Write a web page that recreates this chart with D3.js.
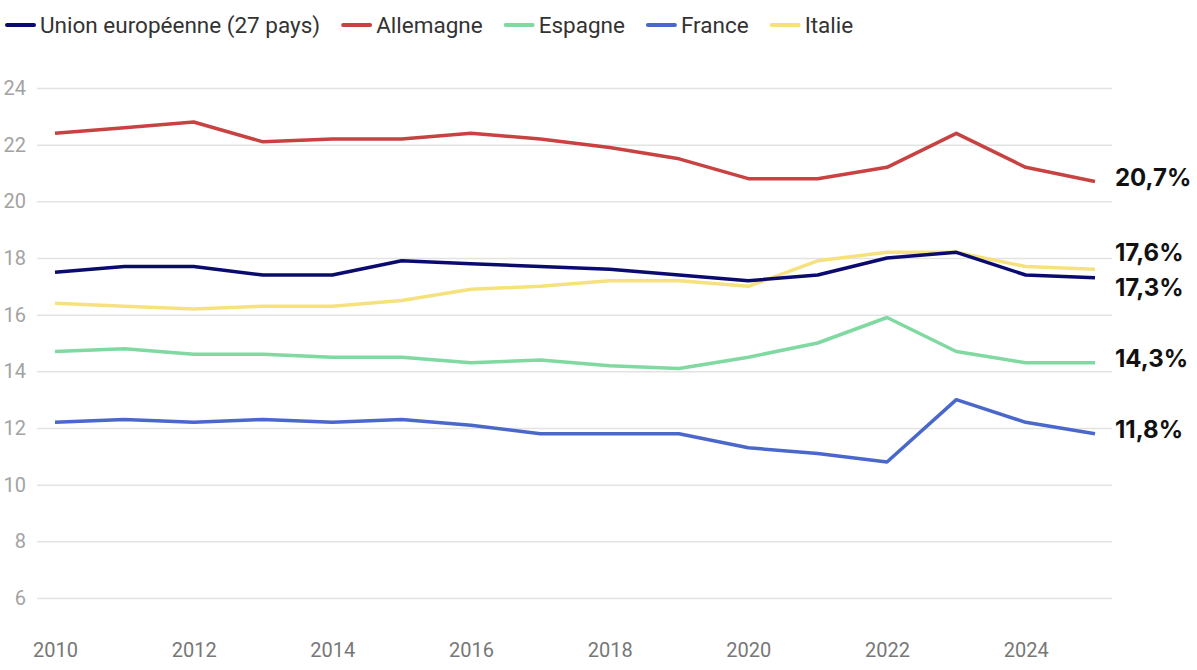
<!DOCTYPE html>
<html>
<head>
<meta charset="utf-8">
<script src="https://cdn.jsdelivr.net/npm/d3@7"></script>
<style>
  body { margin: 0; background: #fff; }
  svg { display: block; font-family: Roboto, sans-serif; }
</style>
</head>
<body>
<div id="chart"></div>
<script>
(() => {
	const years = d3.range(2010, 2026);
	const yTicks = [6, 8, 10, 12, 14, 16, 18, 20, 22, 24];
	const xTicks = [2010, 2012, 2014, 2016, 2018, 2020, 2022, 2024];

	const seriesNames = ['Union européenne (27 pays)', 'Allemagne', 'Espagne', 'France', 'Italie'];
	const seriesColors = ['#0b0b6f', '#c94242', '#7fd9a1', '#4a68cc', '#f6e27c'];

	const ue = [17.5, 17.7, 17.7, 17.4, 17.4, 17.9, 17.8, 17.7, 17.6, 17.4, 17.2, 17.4, 18.0, 18.2, 17.4, 17.3];
	const allemagne = [22.4, 22.6, 22.8, 22.1, 22.2, 22.2, 22.4, 22.2, 21.9, 21.5, 20.8, 20.8, 21.2, 22.4, 21.2, 20.7];
	const espagne = [14.7, 14.8, 14.6, 14.6, 14.5, 14.5, 14.3, 14.4, 14.2, 14.1, 14.5, 15.0, 15.9, 14.7, 14.3, 14.3];
	const france = [12.2, 12.3, 12.2, 12.3, 12.2, 12.3, 12.1, 11.8, 11.8, 11.8, 11.3, 11.1, 10.8, 13.0, 12.2, 11.8];
	const italie = [16.4, 16.3, 16.2, 16.3, 16.3, 16.5, 16.9, 17.0, 17.2, 17.2, 17.0, 17.9, 18.2, 18.2, 17.7, 17.6];

	const endLabels = ['17,3%', '20,7%', '14,3%', '11,8%', '17,6%'];

	const values = [ue, allemagne, espagne, france, italie];
	const series = seriesNames.map((name, i) => ({
		name,
		color: seriesColors[i],
		label: endLabels[i],
		points: years.map((yr, j) => ({ t: yr, v: values[i][j] }))
	}));

	const width = 1197;
	const height = 670;

	const svg = d3.select('#chart')
		.append('svg')
		.attr('width', width)
		.attr('height', height);

	const x = d3.scaleLinear().domain([2010, 2025]).range([55, 1095]);
	const y = d3.scaleLinear().domain([6, 24]).range([598, 88]);

	// grid + y labels
	const yAxis = svg.append('g')
		.attr('transform', 'translate(37,0)')
		.call(d3.axisLeft(y).tickValues(yTicks).tickSize(-1075));
	yAxis.select('.domain').remove();
	yAxis.selectAll('.tick line').attr('stroke', '#e3e3e3').attr('stroke-width', 1.5);
	yAxis.selectAll('.tick text')
		.attr('x', -11)
		.attr('text-anchor', 'end')
		.attr('fill', '#a3a3a3')
		.attr('font-size', 20)
		.attr('font-family', 'Roboto, sans-serif');

	// x labels
	const xAxis = svg.append('g')
		.attr('transform', 'translate(0,640)')
		.call(d3.axisBottom(x).tickValues(xTicks).tickFormat(d3.format('d')).tickSize(0));
	xAxis.select('.domain').remove();
	xAxis.selectAll('.tick text')
		.attr('fill', '#777')
		.attr('font-size', 20)
		.attr('font-family', 'Roboto, sans-serif');

	const line = d3.line()
		.x(d => x(d.t))
		.y(d => y(d.v));

	// draw order: France, Espagne, Italie, UE, Allemagne
	const drawOrder = [3, 2, 4, 0, 1];
	svg.append('g')
		.selectAll('path')
		.data(drawOrder.map(i => series[i]))
		.join('path')
		.attr('fill', 'none')
		.attr('stroke', d => d.color)
		.attr('stroke-width', 3.5)
		.attr('stroke-linejoin', 'round')
		.attr('d', d => line(d.points));

	// end labels with simple dodge
	const labels = series.map(s => ({ text: s.label, y: y(s.points[s.points.length - 1].v) }))
		.sort((a, b) => a.y - b.y);
	const minGap = 35;
	for (let k = 0; k < 50; k++) {
		for (let i = 1; i < labels.length; i++) {
			const gap = labels[i].y - labels[i - 1].y;
			if (gap < minGap) {
				const shift = (minGap - gap) / 2;
				labels[i].y += shift;
				labels[i - 1].y -= shift;
			}
		}
	}
	svg.append('g')
		.selectAll('text')
		.data(labels)
		.join('text')
		.attr('x', 1115)
		.attr('y', d => d.y - 4)
		.attr('dominant-baseline', 'central')
		.attr('fill', '#111')
		.attr('font-size', 24)
		.attr('font-weight', 'bold')
		.attr('font-family', 'Inter, sans-serif')
		.text(d => d.text);

	// legend
	const legend = svg.append('g').attr('transform', 'translate(6,25)');
	let lx = 0;
	series.forEach(s => {
		const item = legend.append('g').attr('transform', `translate(${lx},0)`);
		item.append('line')
			.attr('x1', 1).attr('x2', 28)
			.attr('stroke', s.color)
			.attr('stroke-width', 4)
			.attr('stroke-linecap', 'round');
		const txt = item.append('text')
			.attr('x', 34)
			.attr('dominant-baseline', 'central')
			.attr('fill', '#333')
			.attr('font-size', 22.5)
			.text(s.name);
		lx += 34 + txt.node().getComputedTextLength() + 22;
	});
})();
</script>
</body>
</html>
